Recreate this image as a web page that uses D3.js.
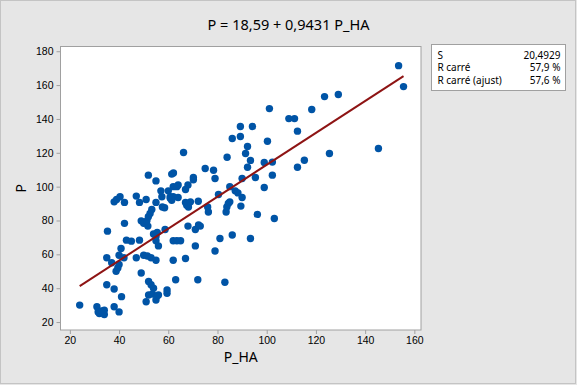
<!DOCTYPE html>
<html>
<head>
<meta charset="utf-8">
<script src="https://cdn.jsdelivr.net/npm/d3@7"></script>
<style>
  body { margin: 0; background: #e6e6e6; }
  svg { display: block; font-family: 'Noto Sans', 'Open Sans', sans-serif; }
  .axis text { font-size: 10.5px; fill: #000; }
  .axis path, .axis line { stroke: #a0a0a0; }
</style>
</head>
<body>
<div id="chart"></div>
<script>
// P_HA vs P
var pointsPHA = [
  24, 31, 31.5, 32, 33, 34, 34, 38, 40, 41, 35, 38,
  51, 55, 52, 53.5, 55.5, 56, 52, 53, 54, 59.5, 59.5, 63, 49, 72, 83,
  38.8, 39.5, 40, 37, 35, 40, 42, 47, 50, 51.5, 53, 55, 62, 67, 79, 71, 56,
  40.8, 43, 45, 48.3, 55, 62, 63.5, 65, 81, 86, 93.4,
  35.3, 42.2, 49, 50, 51.7, 51.3, 54, 55, 55.5, 58.7, 68, 71, 72.3, 73,
  51.9, 52.6, 53.3, 57.6, 58.5, 68.2, 67.5, 76, 76.3, 83.5, 83.8, 89.5, 96.2, 103.1,
  39, 40.4, 38, 42.2, 47, 48.3, 51, 55, 57.4, 60.8, 57, 60, 60.8, 62, 64, 61.4,
  67, 69, 72.2, 84.4, 85, 80.4, 90, 85, 87.2, 88.3, 99, 62, 63.5, 64, 68, 67,
  51.9, 55, 61.4, 62.1, 70.2, 70.2, 79, 90, 95.4, 102.3, 75, 78.4, 92.2, 93.4,
  99, 102.3, 83.9, 91.4, 92.2, 66.2, 112.5, 115.3, 125.5,
  86, 89.3, 100.3, 89.3, 94.2, 101.1, 109, 111.3, 112.5, 118.3, 123.5, 129.1,
  145.4, 153.6, 155.6
];
var pointsP = [
  30, 29, 26, 25, 26.5, 24.5, 27, 29, 26, 35, 42, 39.5,
  32, 33, 36, 36.5, 35.5, 36, 44, 42, 40, 39, 37, 45, 49, 45, 43.5,
  50, 52, 54, 55, 58, 59.5, 58, 58, 59.5, 59, 58, 56.5, 56.5, 57.5, 62, 65, 65,
  63.5, 68.4, 67.8, 68.4, 68, 68, 68, 68, 69.4, 71.4, 69.4,
  73.7, 78.3, 79.8, 78.3, 76.7, 79.8, 72, 70.5, 73, 74.7, 76.7, 74.7, 77.3, 76.7,
  82.2, 84.2, 86.5, 88, 87.5, 88, 89, 88, 85, 85, 88, 88.5, 83.6, 81.2,
  92.4, 94, 91, 90.7, 94.4, 90.7, 92.4, 90.7, 94, 93.2, 97.5, 97.5, 94, 94, 93.6, 92,
  90.7, 91, 91.4, 90, 91, 95.4, 93.6, 100, 97.5, 96.3, 99.5, 100, 100, 101, 101, 98.3,
  106.8, 103.4, 107.4, 108.1, 105.4, 104, 104.8, 104.8, 105.4, 106.8, 110.7, 109.7, 111.5, 115.5,
  114.3, 114.5, 117.4, 119.6, 123.7, 120.2, 111.5, 115.6, 119.6,
  128.4, 129.6, 126.8, 135.5, 135.5, 146.1, 140.2, 140.2, 132.8, 145.6, 153.2, 154.4,
  122.5, 171.5, 159.1
];
var intercept = 18.59;
var slope = 0.9431;
var xTicks = [20, 40, 60, 80, 100, 120, 140, 160];
var yTicks = [20, 40, 60, 80, 100, 120, 140, 160, 180];
var statLabels = ['S', 'R carré', 'R carré (ajust)'];
var statValues = ['20,4929', '57,9 %', '57,6 %'];

var width = 577, height = 385;
var plot = { left: 60.5, top: 46.5, right: 421, bottom: 330 };

var svg = d3.select('#chart').append('svg')
  .attr('width', width)
  .attr('height', height);

svg.append('rect')
  .attr('x', 0.5).attr('y', 0.5)
  .attr('width', width - 2).attr('height', height - 2)
  .attr('fill', '#e6e6e6')
  .attr('stroke', '#c4c4c4');

var xScale = d3.scaleLinear()
  .domain([16.2, 162.7])
  .range([plot.left, plot.right]);

var yScale = d3.scaleLinear()
  .domain([15.3, 182.8])
  .range([plot.bottom, plot.top]);

svg.append('rect')
  .attr('x', plot.left).attr('y', plot.top)
  .attr('width', plot.right - plot.left)
  .attr('height', plot.bottom - plot.top)
  .attr('fill', '#fff')
  .attr('stroke', '#a0a0a0');

svg.append('g')
  .attr('class', 'x axis')
  .attr('transform', `translate(0,${plot.bottom})`)
  .call(d3.axisBottom(xScale).tickValues(xTicks).tickSize(4).tickPadding(3))
  .call(g => g.select('.domain').remove());

svg.append('g')
  .attr('class', 'y axis')
  .attr('transform', `translate(${plot.left},0)`)
  .call(d3.axisLeft(yScale).tickValues(yTicks).tickSize(4).tickPadding(3))
  .call(g => g.select('.domain').remove());

// data points
var data = pointsPHA.map((x, i) => ({ x: x, y: pointsP[i] }));

svg.append('g')
  .selectAll('circle')
  .data(data)
  .enter()
  .append('circle')
  .attr('cx', d => xScale(d.x))
  .attr('cy', d => yScale(d.y))
  .attr('r', 3.7)
  .attr('fill', '#0054a6');

// fitted line
var xExt = d3.extent(pointsPHA);
svg.append('line')
  .attr('x1', xScale(xExt[0]))
  .attr('y1', yScale(intercept + slope * xExt[0]))
  .attr('x2', xScale(xExt[1]))
  .attr('y2', yScale(intercept + slope * xExt[1]))
  .attr('stroke', '#8e1414')
  .attr('stroke-width', 2);

// titles
svg.append('text')
  .attr('x', width / 2)
  .attr('y', 30)
  .attr('text-anchor', 'middle')
  .style('font-size', '14.5px')
  .text('P = 18,59 + 0,9431 P_HA');

svg.append('text')
  .attr('x', (plot.left + plot.right) / 2)
  .attr('y', 362)
  .attr('text-anchor', 'middle')
  .style('font-size', '14px')
  .text('P_HA');

svg.append('text')
  .attr('transform', `translate(26,${(plot.top + plot.bottom) / 2}) rotate(-90)`)
  .attr('text-anchor', 'middle')
  .style('font-size', '14px')
  .text('P');

// summary box
var box = { x: 431.5, y: 44.5, w: 134, h: 46 };
svg.append('rect')
  .attr('x', box.x).attr('y', box.y)
  .attr('width', box.w).attr('height', box.h)
  .attr('fill', '#fff')
  .attr('stroke', '#a0a0a0');

var rows = svg.append('g')
  .selectAll('g')
  .data(statLabels)
  .enter()
  .append('g')
  .attr('transform', (d, i) => `translate(0,${box.y + 14 + i * 12.5})`)
  .style('font-size', '10px');

rows.append('text')
  .attr('x', box.x + 6)
  .text(d => d);

rows.append('text')
  .attr('x', box.x + box.w - 5)
  .attr('text-anchor', 'end')
  .text((d, i) => statValues[i]);
</script>
</body>
</html>
